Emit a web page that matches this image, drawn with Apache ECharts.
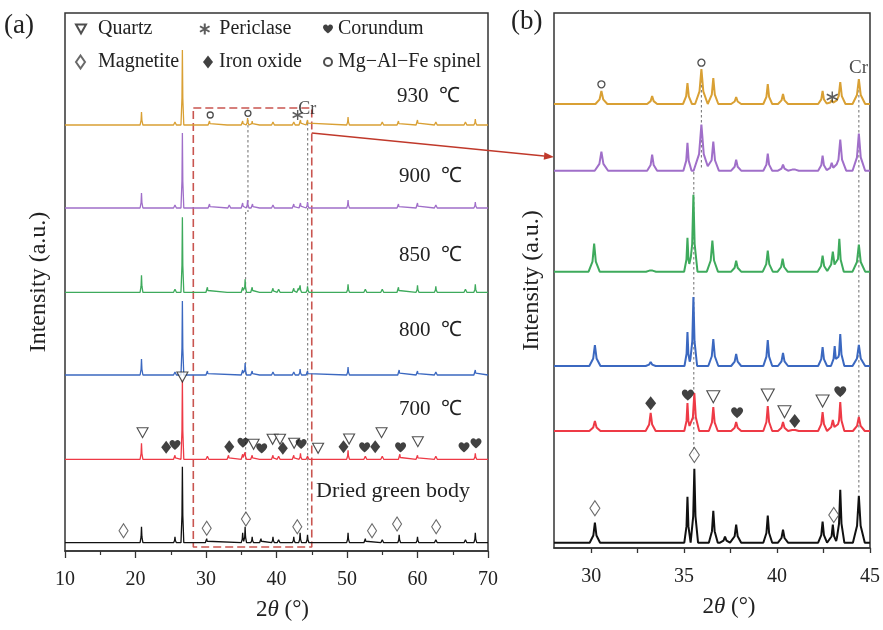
<!DOCTYPE html>
<html><head><meta charset="utf-8">
<script src="https://cdn.jsdelivr.net/npm/echarts@6/dist/echarts.min.js"></script>
<style>html,body{margin:0;padding:0;background:#fff}#c{width:883px;height:630px}</style>
</head><body><div id="c"></div>
<script>
// ================= DATA =================
// Panel (a): 2θ 10–70, traces stacked with baseline offsets (arbitrary units)
const tracesA = ['930 ℃', '900 ℃', '850 ℃', '800 ℃', '700 ℃', 'Dried green body'];
const offsetsA = [426, 343, 258.7, 176, 91.7, 8.3];
// peaks: [2θ, height]
const peaksA_930 = [[20.85,13],[25.6,3],[26.65,75],[30.5,4],[33.2,2],[35.2,4],[35.9,7],[36.55,4],[37.8,2],[39.5,3],[40.3,2],[42.45,3],[43.4,5],[44.4,5],[50.15,8],[52.6,2],[55.0,3],[57.3,4],[60.0,5],[62.6,3],[64.0,2],[66.8,3],[68.2,6]];
const peaksA_900 = [[20.85,15],[25.6,3],[26.65,75],[30.5,4],[33.3,3],[35.2,5],[35.9,8],[36.6,4],[37.8,2],[39.5,3],[40.3,2],[42.45,4],[43.4,5],[44.4,6],[50.15,8],[52.6,2],[55.0,2],[57.3,4],[60.0,5],[62.6,3],[64.0,2],[66.8,2],[68.2,6]];
const peaksA_850 = [[20.85,17],[25.6,3],[26.65,75],[30.2,5],[33.2,1],[35.2,5],[35.55,13],[36.55,5],[37.8,2],[39.5,4],[40.3,3],[42.45,4],[43.1,4],[43.35,7],[44.4,6],[50.15,8],[52.6,3],[55.0,3],[57.3,5],[60.0,7],[62.6,6],[64.0,2],[66.8,3],[68.2,8]];
const peaksA_800 = [[20.85,16],[25.6,3],[26.65,74],[30.2,4],[35.2,5],[35.55,12],[36.55,4],[37.8,2],[39.5,3],[40.3,2],[42.45,3],[43.35,6],[44.4,4],[50.15,8],[52.6,2],[55.0,2],[57.4,5],[60.0,4],[62.6,3],[64.0,2],[66.8,2],[68.2,5]];
const peaksA_700 = [[20.85,16],[25.6,4],[26.65,80],[30.2,3],[33.2,4],[35.2,5],[35.55,7],[36.55,4],[37.8,2],[39.5,4],[40.3,3],[42.45,4],[43.4,6],[44.4,3],[50.15,9],[52.6,3],[55.0,3],[57.5,5],[60.0,4],[62.6,3],[64.0,2],[66.8,2],[68.2,6]];
const peaksA_green = [[18.3,1],[20.85,16],[25.6,6],[26.65,76],[30.1,4],[35.2,10],[35.55,16],[36.55,6],[37.8,4],[39.5,6],[40.3,3],[42.45,6],[43.35,10],[44.4,8],[45.8,2],[50.15,10],[52.6,4],[55.0,3],[57.4,8],[60.0,6],[62.6,3],[64.0,2],[66.8,3],[68.2,10]];

// Panel (b): 2θ 28–45 zoom ; peaks: [2θ, height, half-width]
const offsetsB = [444, 377.3, 276.3, 182, 117, 5.3];
const peaksB_930 = [[30.55,13,0.32],[33.28,8],[35.18,21,0.24],[35.93,35,0.34],[36.57,26],[37.8,7],[39.5,20,0.24],[40.32,10],[42.45,13,0.24],[42.94,4],[43.4,22,0.28],[44.4,25,0.34]];
const peaksB_900 = [[30.55,19,0.36],[33.28,16],[35.18,28,0.22],[35.93,46,0.42],[36.57,29,0.3],[37.8,11],[39.5,17,0.24],[40.32,6],[40.9,3],[42.45,15,0.24],[42.94,8],[43.4,31,0.32],[44.4,37,0.34]];
const peaksB_850 = [[30.16,28,0.3],[33.22,3],[35.18,34,0.18],[35.5,77,0.22],[36.52,31,0.3],[37.8,11],[39.5,21],[40.3,13],[42.45,16],[43.0,20,0.3],[43.35,33,0.24],[44.4,27,0.34]];
const peaksB_800 = [[30.2,21,0.3],[33.2,4],[35.18,34,0.16],[35.5,69,0.2],[36.57,27],[37.8,12],[39.5,26,0.24],[40.32,13],[42.45,19,0.24],[43.1,20,0.2],[43.4,32,0.22],[44.4,21,0.34]];
const peaksB_700 = [[30.2,10,0.3],[33.2,18],[35.18,28,0.17],[35.55,38,0.26],[36.57,24,0.24],[37.8,9],[39.5,25,0.24],[40.32,9],[40.9,3],[42.45,19,0.24],[43.0,11,0.28],[43.4,29,0.22],[44.4,14,0.32]];
const peaksB_green = [[30.2,20,0.28],[35.18,46,0.17],[35.55,74,0.2],[36.57,32,0.24],[37.2,6],[37.8,18],[39.5,27,0.24],[40.32,13],[42.45,21,0.24],[43.0,18,0.22],[43.4,53,0.22],[44.4,47,0.32]];

// Phase markers [2θ, y]
const quartzA = [[21.0,118.3],[26.65,174],[36.75,106.7],[39.45,111.7],[40.5,111.7],[42.5,107.7],[45.9,102.7],[50.3,112],[54.9,118.3],[60.05,109.3]];
const corundumA = [[25.6,106],[35.24,108.3],[37.9,102.7],[43.5,107],[52.5,103.7],[57.6,103.7],[66.6,103.7],[68.3,107.7]];
const ironOxideA = [[24.35,103.7],[33.3,104.3],[40.9,102.7],[49.5,104.3],[54.0,104.3]];
const magnetiteA = [[18.3,20.3],[30.1,22.7],[35.66,32],[42.95,24.3],[53.55,20.3],[57.1,27],[62.65,24.3]];
const spinelA = [[30.6,436],[35.95,437.7]];
const periclaseA = [[43.0,436]];
const chromiumA = [[44.35,442]];

const quartzB = [[36.57,151.3],[39.5,153],[40.4,136.3],[42.45,147]];
const corundumB = [[35.2,153],[37.85,135.3],[43.4,156.3]];
const ironOxideB = [[33.2,144.7],[40.95,127]];
const magnetiteB = [[30.2,39.7],[35.55,93],[43.05,33]];
const spinelB = [[30.55,463.7],[35.93,485.3]];
const periclaseB = [[42.97,451]];
const chromiumB = [[44.38,480]];

// guide lines (dotted) and zoom box
const guideA1 = [[35.95,431],[35.95,339]];
const guideA2 = [[35.62,339],[35.62,34]];
const guideA3 = [[44.42,428],[44.42,21]];
const guideB1 = [[35.93,468],[35.93,378]];
const guideB2 = [[35.52,376],[35.52,93]];
const guideB3 = [[44.4,463],[44.4,55]];
const zoomBox = [[28.2,443],[45.0,443],[45.0,4],[28.2,4],[28.2,443]];

const colors = ['#D9A034', '#A06FC9', '#3EAA5C', '#3B68C0', '#EE3A46', '#111111'];
const xLabelsB = [30, 35, 40, 45];
const xTicksB = [30, 32.5, 35, 37.5, 40, 42.5, 45];

// ================= BUILD =================
const SH = 0.3, SHH = 0.36; // shoulder position / relative height of peak profile
function peakVal(x, p, defW) {
  const w = p[2] || defW, a = Math.abs(x - p[0]) / w;
  if (a >= 1) return 0;
  if (a <= SH) return p[1] * (1 - (a / SH) * (1 - SHH));
  return p[1] * SHH * (1 - a) / (1 - SH);
}
function buildLine(peaks, offset, defW, x0, x1) {
  const xs = [x0, x1];
  peaks.forEach(p => { const w = p[2] || defW; [-1, -SH, 0, SH, 1].forEach(d => { const v = p[0] + d * w; if (v > x0 && v < x1) xs.push(v); }); });
  xs.sort((a, b) => a - b);
  return xs.map(x => [x, offset + peaks.reduce((s, p) => s + peakVal(x, p, defW), 0)]);
}
const peaksA = [peaksA_930, peaksA_900, peaksA_850, peaksA_800, peaksA_700, peaksA_green];
const peaksB = [peaksB_930, peaksB_900, peaksB_850, peaksB_800, peaksB_700, peaksB_green];

const FONT = 'Liberation Serif';
const series = [];
function guide(data, gi) {
  series.push({ type: 'line', xAxisIndex: gi, yAxisIndex: gi, data, symbol: 'none', silent: true, z: 1,
    lineStyle: { color: '#7a7a7a', width: 1.1, type: [2.5, 2.5] } });
}
[guideA1, guideA2, guideA3].forEach(d => guide(d, 0));
[guideB1, guideB2, guideB3].forEach(d => guide(d, 1));
series.push({ type: 'line', xAxisIndex: 0, yAxisIndex: 0, data: zoomBox, symbol: 'none', silent: true, z: 1,
  lineStyle: { color: '#C95550', width: 1.6, type: [8, 4] } });

peaksA.forEach((pk, i) => series.push({
  name: tracesA[i] + ' a', type: 'line', xAxisIndex: 0, yAxisIndex: 0, symbol: 'none', silent: true, z: 2,
  data: buildLine(pk, offsetsA[i], 0.2, 10, 70), lineStyle: { color: colors[i], width: 1.3 }
}));
peaksB.forEach((pk, i) => series.push({
  name: tracesA[i] + ' b', type: 'line', xAxisIndex: 1, yAxisIndex: 1, symbol: 'none', silent: true, z: 2,
  data: buildLine(pk, offsetsB[i], 0.27, 28, 45), lineStyle: { color: colors[i], width: 2 }
}));

const SYM = {
  Quartz: { symbol: 'path://M0,0L10,0L5,9Z', sizeA: [11, 10], sizeB: [13, 12], itemStyle: { color: '#fff', borderColor: '#222', borderWidth: 1.1 } },
  Periclase: { symbol: 'path://M5,0L5,10M0.67,2.5L9.33,7.5M0.67,7.5L9.33,2.5', sizeA: 10, sizeB: 11, itemStyle: { color: '#333', borderColor: '#333', borderWidth: 1.4 } },
  Corundum: { symbol: 'path://M5,9C5,9 0,5.5 0,2.8C0,1.2 1.2,0 2.6,0C3.7,0 4.5,0.7 5,1.6C5.5,0.7 6.3,0 7.4,0C8.8,0 10,1.2 10,2.8C10,5.5 5,9 5,9Z', sizeA: [11, 10], sizeB: [12, 11], itemStyle: { color: '#111' } },
  Magnetite: { symbol: 'diamond', sizeA: [9, 14], sizeB: [10, 15], itemStyle: { color: '#fff', borderColor: '#444', borderWidth: 1.1 } },
  'Iron oxide': { symbol: 'diamond', sizeA: [10, 13], sizeB: [11, 14], itemStyle: { color: '#111' } },
  'Mg−Al−Fe spinel': { symbol: 'circle', sizeA: 6, sizeB: 7, itemStyle: { color: '#fff', borderColor: '#222', borderWidth: 1.3 } }
};
const markA = { Quartz: quartzA, Periclase: periclaseA, Corundum: corundumA, Magnetite: magnetiteA, 'Iron oxide': ironOxideA, 'Mg−Al−Fe spinel': spinelA };
const markB = { Quartz: quartzB, Periclase: periclaseB, Corundum: corundumB, Magnetite: magnetiteB, 'Iron oxide': ironOxideB, 'Mg−Al−Fe spinel': spinelB };
Object.keys(SYM).forEach(k => {
  const s = SYM[k];
  series.push({ name: k, type: 'scatter', xAxisIndex: 0, yAxisIndex: 0, data: markA[k], symbol: s.symbol, symbolSize: s.sizeA, itemStyle: s.itemStyle, z: 5, silent: true });
  series.push({ name: k, type: 'scatter', xAxisIndex: 1, yAxisIndex: 1, data: markB[k], symbol: s.symbol, symbolSize: s.sizeB, itemStyle: s.itemStyle, z: 5, silent: true });
});
[[chromiumA, 0, 18], [chromiumB, 1, 19]].forEach(([d, gi, fs]) => series.push({
  type: 'scatter', xAxisIndex: gi, yAxisIndex: gi, data: d, symbolSize: 0, silent: true, z: 6,
  label: { show: true, position: 'inside', formatter: 'Cr', fontFamily: FONT, fontSize: fs, color: '#222' }
}));

// legends (one per item to align columns)
const legendPos = [
  ['Quartz', 75, 19, 7, 10, 10], ['Periclase', 199, 19, 4, 11, 11], ['Corundum', 323, 19, 0, 10, 10],
  ['Magnetite', 75, 52, 8, 9, 13], ['Iron oxide', 203, 52, 1, 10, 13], ['Mg−Al−Fe spinel', 323, 52, 1, 8, 8]
];
const legend = legendPos.map(([n, l, t, pad, w, h]) => ({
  data: [n], left: l, top: t, padding: 0, itemWidth: w, itemHeight: h, selectedMode: false,
  textStyle: { fontFamily: FONT, fontSize: 20, color: '#222', padding: [0, 0, 0, pad] }
}));

const axisCommon = {
  type: 'value',
  axisLine: { show: true, lineStyle: { color: '#333', width: 1.5 } },
  axisTick: { show: true, inside: false, length: 6, lineStyle: { color: '#333', width: 1.3 } },
  axisLabel: { fontFamily: FONT, fontSize: 20, color: '#222', margin: 19 },
  splitLine: { show: false },
  nameLocation: 'middle',
  nameTextStyle: { fontFamily: FONT, fontSize: 23, color: '#222', rich: { i: { fontFamily: FONT, fontStyle: 'italic', fontSize: 23, color: '#222' } } }
};
const yCommon = {
  type: 'value', axisLine: { show: false }, axisTick: { show: false }, axisLabel: { show: false }, splitLine: { show: false },
  name: 'Intensity (a.u.)', nameLocation: 'middle', nameRotate: 90,
  nameTextStyle: { fontFamily: FONT, fontSize: 24, color: '#222' }
};

const textGraphics = [
  { id: 'ta', type: 'text', left: 4, top: 12, style: { text: '(a)', font: '27px "Liberation Serif"', fill: '#222' } },
  { id: 'tb', type: 'text', left: 511, top: 8, style: { text: '(b)', font: '27px "Liberation Serif"', fill: '#222' } },
  { id: 't930', type: 'text', left: 397, top: 86, style: { text: '930  ℃', font: '21px "Liberation Serif"', fill: '#222' } },
  { id: 't900', type: 'text', left: 399, top: 166, style: { text: '900  ℃', font: '21px "Liberation Serif"', fill: '#222' } },
  { id: 't850', type: 'text', left: 399, top: 245, style: { text: '850  ℃', font: '21px "Liberation Serif"', fill: '#222' } },
  { id: 't800', type: 'text', left: 399, top: 320, style: { text: '800  ℃', font: '21px "Liberation Serif"', fill: '#222' } },
  { id: 't700', type: 'text', left: 399, top: 399, style: { text: '700  ℃', font: '21px "Liberation Serif"', fill: '#222' } },
  { id: 'tdry', type: 'text', left: 316, top: 480, style: { text: 'Dried green body', font: '22px "Liberation Serif"', fill: '#222' } }
];

const option = {
  animation: false,
  backgroundColor: '#fff',
  grid: [
    { left: 65, top: 13, width: 423, height: 538, show: true, borderColor: '#333', borderWidth: 1.5 },
    { left: 554, top: 13, width: 318, height: 535, show: true, borderColor: '#333', borderWidth: 1.5 }
  ],
  xAxis: [
    Object.assign({}, axisCommon, { gridIndex: 0, min: 10, max: 70, interval: 10,
      axisTick: Object.assign({}, axisCommon.axisTick, { length: 7 }),
      minorTick: { show: true, splitNumber: 2, length: 4, lineStyle: { color: '#333', width: 1.2 } },
      name: '2{i|θ} (°)', nameGap: 47, nameTextStyle: Object.assign({}, axisCommon.nameTextStyle, { padding: [0, 0, 0, 12] }) }),
    Object.assign({}, axisCommon, { gridIndex: 1, min: 28, max: 45,
      axisTick: Object.assign({}, axisCommon.axisTick, { length: 5, customValues: xTicksB }),
      axisLabel: Object.assign({}, axisCommon.axisLabel, { customValues: xLabelsB }),
      name: '2{i|θ} (°)', nameGap: 47, nameTextStyle: Object.assign({}, axisCommon.nameTextStyle, { padding: [0, 0, 0, 34] }) })
  ],
  yAxis: [
    Object.assign({}, yCommon, { gridIndex: 0, min: 0, max: 538, nameGap: 14 }),
    Object.assign({}, yCommon, { gridIndex: 1, min: 0, max: 535, nameGap: 10 })
  ],
  legend,
  series,
  graphic: textGraphics
};
const chart = echarts.init(document.getElementById('c'), null, { renderer: 'canvas' });
chart.setOption(option);

// arrow from zoom box (panel a) to panel (b)
const p0 = chart.convertToPixel({ gridIndex: 0 }, [45.0, 418]);
const p1 = chart.convertToPixel({ gridIndex: 1 }, [28, 391]);
const dx = p1[0] - p0[0], dy = p1[1] - p0[1], L = Math.hypot(dx, dy), ux = dx / L, uy = dy / L;
const hl = 10, hw = 3.8;
const bx = p1[0] - ux * hl, by = p1[1] - uy * hl;
chart.setOption({ graphic: textGraphics.concat([
  { id: 'arrowLine', type: 'line', shape: { x1: p0[0], y1: p0[1], x2: bx, y2: by }, style: { stroke: '#C0392B', lineWidth: 1.3 }, z: 10 },
  { id: 'arrowHead', type: 'polygon', shape: { points: [[p1[0], p1[1]], [bx - uy * hw, by + ux * hw], [bx + uy * hw, by - ux * hw]] }, style: { fill: '#C0392B' }, z: 10 }
]) });
</script></body></html>
